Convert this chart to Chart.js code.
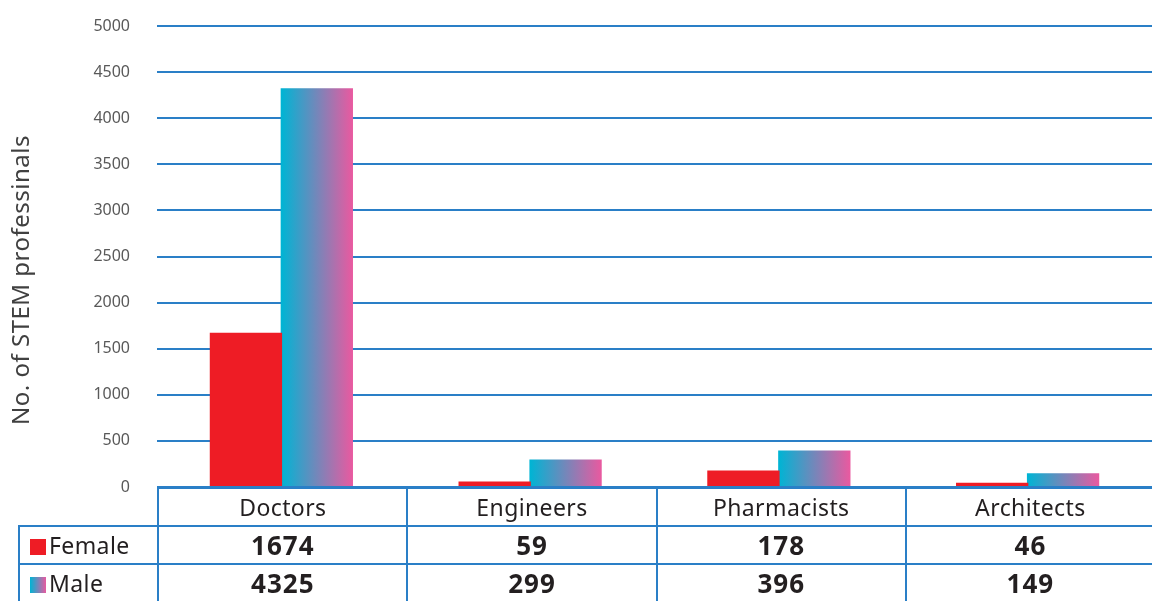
<!DOCTYPE html>
<html>
<head>
<meta charset="utf-8">
<script src="https://cdn.jsdelivr.net/npm/chart.js@4"></script>
<style>
  body { margin: 0; background: #fff; }
  #wrap { position: relative; width: 1152px; height: 601px; overflow: hidden; font-family: "Noto Sans", sans-serif; }
  #chart { position: absolute; left: 0; top: 0; }
  #tbl { position: absolute; left: 18px; top: 487px; width: 1138px; border-collapse: collapse; table-layout: fixed; color: #231f20; }
  #tbl td { border: 2px solid #2a7fc7; height: 36px; padding: 0; text-align: center; font-size: 23px; letter-spacing: 0.4px; white-space: nowrap; }
  #tbl td.blank { border-top: none; border-left: none; background: transparent; }
  #tbl td.lab { text-align: left; padding-left: 10px; font-size: 23px; }
  #tbl td.val { font-weight: bold; font-size: 26px; letter-spacing: 1px; }
  .sw { display: inline-block; width: 16px; height: 16px; vertical-align: -1px; margin-right: 3px; }
</style>
</head>
<body>
<div id="wrap">
  <canvas id="chart" width="1152" height="601"></canvas>
  <table id="tbl"></table>
</div>
<script>
var categories = ["Doctors", "Engineers", "Pharmacists", "Architects"];
var female = [1674, 59, 178, 46];
var male = [4325, 299, 396, 149];
var seriesNames = ["Female", "Male"];
var yMax = 5000;
var yStep = 500;

var gridBlue = "#2a7fc7";
var femaleRed = "#ee1c25";
var maleFrom = "#00b4d4";
var maleTo = "#e85aa0";
var catPct = 0.57;

// y axis title, drawn by hand so it can sit where the original has it
var yTitle = {
  id: "yTitle",
  afterDraw: function (chart) {
    var c = chart.ctx;
    c.save();
    c.translate(22, 280);
    c.rotate(-Math.PI / 2);
    c.font = '24px "Noto Sans"';
    if ("letterSpacing" in c) c.letterSpacing = "0.5px";
    c.fillStyle = "#404040";
    c.textAlign = "center";
    c.textBaseline = "middle";
    c.fillText("No. of STEM professinals", 0, 0);
    c.restore();
  }
};

function maleGradient(ctx) {
  var chart = ctx.chart;
  var xs = chart.scales.x;
  if (!xs || ctx.dataIndex === undefined) return maleFrom;
  var c = xs.getPixelForValue(ctx.dataIndex);
  var w = xs.width / categories.length * catPct / 2;
  if (!isFinite(c) || !isFinite(w) || w <= 0) return maleFrom;
  var g = chart.ctx.createLinearGradient(c, 0, c + w, 0);
  g.addColorStop(0, maleFrom);
  g.addColorStop(1, maleTo);
  return g;
}

var chart = new Chart(document.getElementById("chart"), {
  type: "bar",
  data: {
    labels: categories,
    datasets: [{
      label: seriesNames[0],
      data: female,
      backgroundColor: femaleRed,
      categoryPercentage: catPct,
      barPercentage: 1.02
    }, {
      label: seriesNames[1],
      data: male,
      backgroundColor: maleGradient,
      categoryPercentage: catPct,
      barPercentage: 1.02
    }]
  },
  options: {
    responsive: false,
    animation: false,
    layout: { padding: { top: 26, right: 0, bottom: 114, left: 0 } },
    plugins: { legend: { display: false }, tooltip: { enabled: false } },
    scales: {
      x: { display: false },
      y: {
        min: 0,
        max: yMax,
        ticks: {
          stepSize: yStep, color: "#595959", font: { family: "Noto Sans", size: 16 }, padding: 7,
          callback: function (v) { return String(v); }
        },
        // invisible tick marks push the labels away from the plot
        grid: { color: gridBlue, lineWidth: 2, drawTicks: true, tickLength: 20, tickColor: "rgba(0,0,0,0)" },
        border: { display: false },
        afterFit: function (s) { s.width = 157; }
      }
    }
  },
  plugins: [yTitle]
});

// data table under the plot
var tbl = document.getElementById("tbl");
var colW = (1152 - 157) / categories.length;
var html = '<colgroup><col style="width:139px">';
for (var i = 0; i < categories.length; i++) html += '<col style="width:' + colW + 'px">';
html += '</colgroup><tr><td class="blank"></td>';
for (i = 0; i < categories.length; i++) html += "<td>" + categories[i] + "</td>";
html += '</tr><tr><td class="lab"><span class="sw" style="background:' + femaleRed + '"></span>' + seriesNames[0] + "</td>";
for (i = 0; i < female.length; i++) html += '<td class="val">' + female[i] + "</td>";
html += '</tr><tr><td class="lab"><span class="sw" style="background:linear-gradient(to right,' + maleFrom + ',' + maleTo + ')"></span>' + seriesNames[1] + "</td>";
for (i = 0; i < male.length; i++) html += '<td class="val">' + male[i] + "</td>";
html += "</tr>";
tbl.innerHTML = html;
</script>
</body>
</html>
